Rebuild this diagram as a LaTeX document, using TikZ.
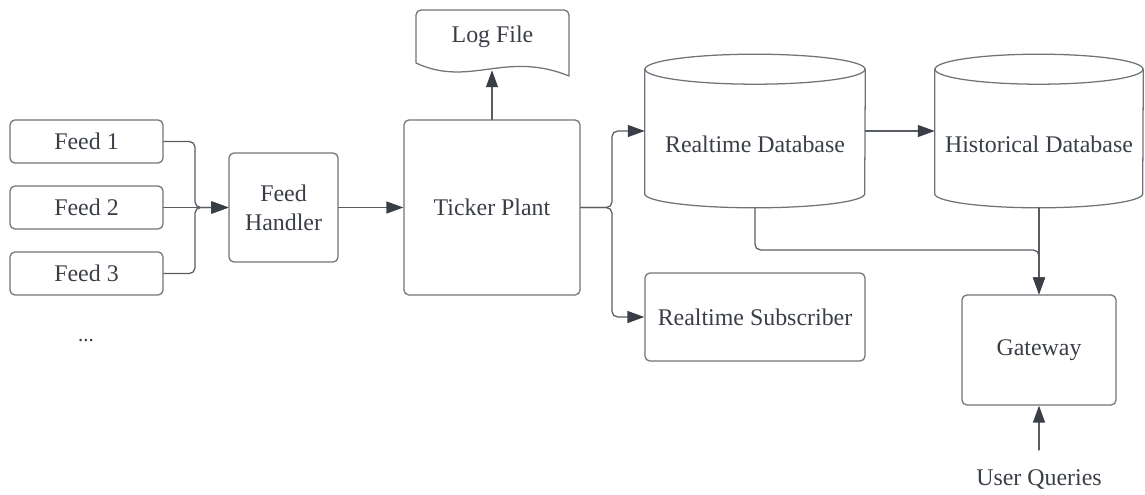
\documentclass[tikz,border=0pt]{standalone}
\usepackage{fontspec}
\setmainfont{Liberation Serif}
\usetikzlibrary{arrows.meta}
\definecolor{edgecol}{RGB}{112,116,122}
\definecolor{linecol}{RGB}{88,92,99}
\definecolor{inkcol}{RGB}{58,62,70}
\begin{document}
\begin{tikzpicture}[x=0.025cm, y=-0.025cm, font=\fontsize{17}{20.5}\selectfont, line join=round, line cap=round,
	>={Triangle[length=12pt,width=8.5pt,color=inkcol]},
	box/.style={draw=edgecol, line width=0.9pt, rounded corners=3.5pt, inner sep=0pt, align=center, text=inkcol},
	ghost/.style={inner sep=0pt, align=center, text=inkcol},
	outline/.style={draw=edgecol, line width=0.9pt},
	flow/.style={draw=linecol, line width=0.9pt, rounded corners=4pt, ->}]
	\useasboundingbox (0,0) rectangle (1145,494);
	% Nguồn dữ liệu
	\node[box, minimum width=3.825cm, minimum height=1.075cm] (feed1) at (86.5,141.5) {Feed 1};
	\node[box, minimum width=3.825cm, minimum height=1.075cm] (feed2) at (86.5,207.5) {Feed 2};
	\node[box, minimum width=3.825cm, minimum height=1.075cm] (feed3) at (86.5,273.5) {Feed 3};
	\node[ghost, font=\fontsize{15}{18}\selectfont] (dots) at (86,341) {...};
	\node[box, minimum width=2.725cm, minimum height=2.725cm] (fh) at (283.5,207.5) {Feed\\Handler};
	\node[box, minimum width=4.4cm, minimum height=4.375cm] (tp) at (492,207.5) {Ticker Plant};
	% Log file (cạnh dưới lượn sóng)
	\draw[outline, rounded corners=3.5pt] (416,63) -- (416,10) -- (569,10) [sharp corners] -- (569,76)
		.. controls (505,50) and (470,88) .. (416,63) -- cycle;
	\node[ghost, minimum width=3.825cm, minimum height=1.5cm] (logf) at (492.5,40) {};
	\node[ghost] (logtext) at (492.5,37) {Log File};
	% Cơ sở dữ liệu
	\node[ghost, minimum width=5.5cm, minimum height=3.825cm] (rdb) at (755,131) {};
	\node[ghost, minimum width=5.2cm, minimum height=3.825cm] (hdb) at (1039,131) {};
	\foreach \db/\rx in {rdb/110,hdb/104} {
		\draw[outline] (\db.north) ++(0,15) ellipse[x radius=\rx, y radius=15];
		\draw[outline] ([yshift=-0.375cm]\db.north west) -- ([yshift=0.35cm]\db.south west)
			arc[start angle=180, end angle=0, x radius=\rx, y radius=14] -- ([yshift=-0.375cm]\db.north east);
	}
	\node[ghost] (rdbtext) at (755,144) {Realtime Database};
	\node[ghost] (hdbtext) at (1039,144) {Historical Database};
	\node[box, minimum width=5.5cm, minimum height=2.2cm] (rs) at (755,317) {Realtime Subscriber};
	\node[box, minimum width=3.85cm, minimum height=2.75cm] (gw) at (1039,350) {Gateway};
	\node[ghost] (uq) at (1039,480) {User Queries};
	% Kết nối
	\coordinate (fbus) at (195,207.5);
	\coordinate (tbus) at (612,207.5);
	\coordinate (gbus) at (1039,250);
	\coordinate (uqtail) at (1039,450);
	\draw[flow] (feed1.east) -| (fbus) -- (fh.west);
	\draw[flow] (feed3.east) -| (fbus) -- (fh.west);
	\draw[flow] (feed2.east) -- (fh.west);
	\draw[flow] (fh.east) -- (tp.west);
	\draw[flow] (tp.north) -- (tp.north |- logf.south);
	\draw[flow] (tp.east) -- (tbus) |- (rdb.west);
	\draw[flow] (tp.east) -- (tbus) |- (rs.west);
	\draw[flow] (rdb.east) -- (hdb.west);
	\draw[flow] (rdb.south) |- (gbus) -- (gw.north);
	\draw[flow] (hdb.south) -- (gw.north);
	\draw[flow] (uqtail) -- (gw.south);
\end{tikzpicture}
\end{document}
